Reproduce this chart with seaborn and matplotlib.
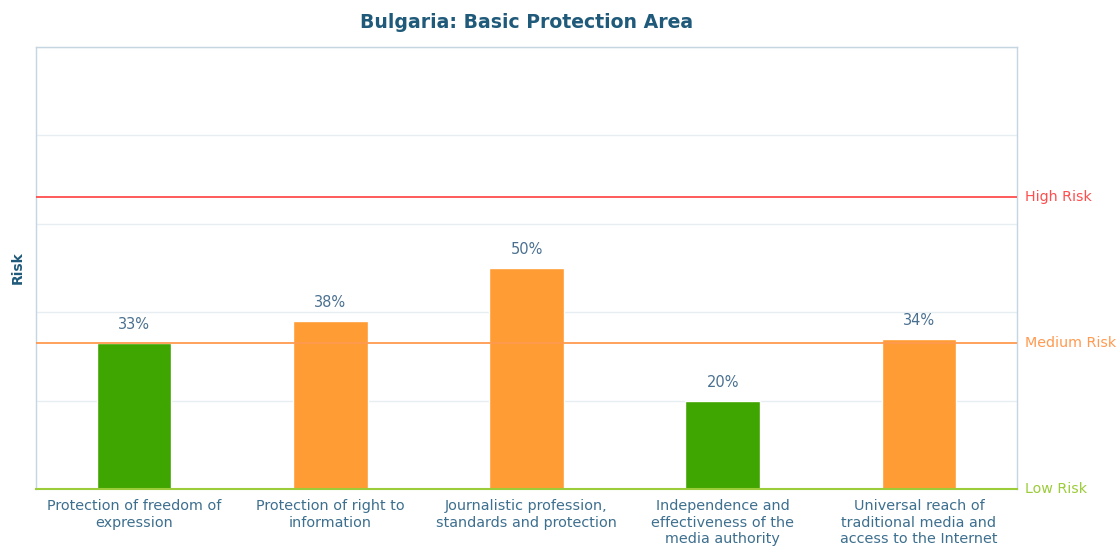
import matplotlib
matplotlib.use("Agg")
import matplotlib.pyplot as plt
import seaborn as sns
import pandas as pd

categories = [
    "Protection of freedom of\nexpression",
    "Protection of right to\ninformation",
    "Journalistic profession,\nstandards and protection",
    "Independence and\neffectiveness of the\nmedia authority",
    "Universal reach of\ntraditional media and\naccess to the Internet",
]
values = [33, 38, 50, 20, 34]
risk_levels = ["Low", "Medium", "Medium", "Low", "Medium"]
thresholds = {"Low Risk": 0, "Medium Risk": 33, "High Risk": 66}

sns.set_theme(style="white")
plt.rcParams["font.family"] = ["DejaVu Sans"]

palette = {"Low": "#3fa500", "Medium": "#ff9c33"}
threshold_colors = {"Low Risk": "#9ccc3a", "Medium Risk": "#ff9a50", "High Risk": "#ff4d4d"}

df = pd.DataFrame({"cat": categories, "val": values, "risk": risk_levels})

fig = plt.figure(figsize=(11.18, 5.47), dpi=100)
ax = fig.add_axes([36/1118, 1 - 489/547, 981/1118, 442/547])

sns.barplot(data=df, x="cat", y="val", hue="risk", palette=palette, dodge=False,
            width=0.38, legend=False, ax=ax, saturation=1)

ax.set_ylim(0, 100)
ax.set_xlim(-0.5, 4.5)
ax.set_yticks([0, 20, 40, 60, 80, 100])
ax.yaxis.grid(True, color="#e6eef2", linewidth=1)
ax.set_axisbelow(True)
ax.tick_params(axis="y", left=False, labelleft=False)
ax.tick_params(axis="x", bottom=False, labelsize=10.4, colors="#3d6f8e", pad=1.5)
for lbl in ax.get_xticklabels():
    lbl.set_linespacing(1.2)
ax.set_xlabel("")
ax.set_ylabel("Risk", color="#1f5a7a", fontsize=10, fontweight="bold", labelpad=8)

for side in ["left", "right", "top"]:
    ax.spines[side].set_color("#c5d6e0")
    ax.spines[side].set_linewidth(1)
ax.spines["bottom"].set_color(threshold_colors["Low Risk"])
ax.spines["bottom"].set_linewidth(1.5)

for name, yv in thresholds.items():
    if yv > 0:
        ax.axhline(yv, color=threshold_colors[name], linewidth=1.3, zorder=3)
    ax.text(1.008, yv, name, transform=ax.get_yaxis_transform(), color=threshold_colors[name],
            fontsize=10.3, va="center", ha="left")

for i, v in enumerate(values):
    ax.text(i, v + 2.5, f"{v}%", ha="center", va="bottom", color="#4a7090", fontsize=10.5)

fig.suptitle("Bulgaria: Basic Protection Area", x=(36 + 981/2)/1118, y=1 - 22/547,
             va="center", color="#1f5a7a", fontsize=13.6, fontweight="bold")

fig.savefig("out.png", dpi=100)
